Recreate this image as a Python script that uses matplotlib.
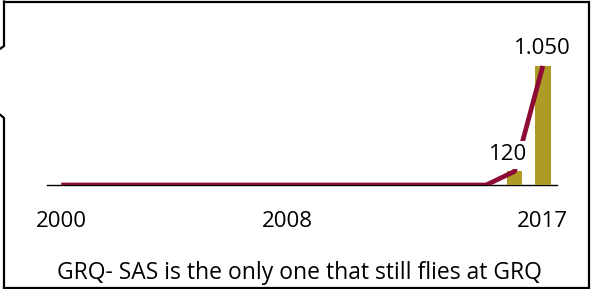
import numpy as np
import matplotlib
matplotlib.use("Agg")
from matplotlib import pyplot as plt
from matplotlib.lines import Line2D

plt.rcParams['font.family'] = ['Open Sans', 'DejaVu Sans']

years = list(range(2000, 2018))
line_values = [0] * 16 + [120, 1050]
bar_values = [0] * 16 + [120, 1050]
bar_labels = {2016: "120", 2017: "1.050"}
tick_years = [2000, 2008, 2017]
caption = "GRQ- SAS is the only one that still flies at GRQ"

bar_color = "#AE9A24"
line_color = "#8C0A33"

W, H = 591, 289
fig = plt.figure(figsize=(W / 100, H / 100), dpi=100)

# axes placed in pixel terms: x 47..557, baseline at y=185
ax = fig.add_axes([47 / W, (H - 185) / H, 510 / W, 124.7 / H])
x = np.arange(len(years))
nz = [i for i, v in enumerate(bar_values) if v > 0]
ax.bar(x[nz], [bar_values[i] for i in nz], width=0.55, color=bar_color, zorder=2)
ax.plot(x, line_values, color=line_color, linewidth=3.4, solid_capstyle="butt", zorder=3)

offsets = {2016: (-6, 6), 2017: (-1, 7)}
for yr, lab in bar_labels.items():
    i = years.index(yr)
    ax.annotate(lab, (x[i], bar_values[i]), xytext=offsets[yr], textcoords="offset pixels",
                ha="center", va="bottom", fontsize=16, color="black", zorder=4,
                bbox=dict(boxstyle="square,pad=0.15", fc="white", ec="none"))

ax.set_xlim(-0.5, len(years) - 0.5)
ax.set_ylim(0, 1100)
ax.set_xticks([years.index(t) for t in tick_years])
ax.set_xticklabels([str(t) for t in tick_years], fontsize=16)
ax.tick_params(axis="x", length=0, pad=18.5)
ax.set_yticks([])
for s in ["top", "right", "left"]:
    ax.spines[s].set_visible(False)
ax.spines["bottom"].set_linewidth(1.0)
ax.spines["bottom"].set_color("black")
ax.spines["bottom"].set_zorder(1)

fig.text(299 / W, (H - 279) / H, caption, ha="center", va="baseline", fontsize=16.5)

# frame around the chart (left edge is broken)
def px_line(xs, ys):
    fig.add_artist(Line2D([v / W for v in xs], [(H - v) / H for v in ys],
                          transform=fig.transFigure, color="black", linewidth=1.6,
                          solid_joinstyle="miter"))

px_line([4, 589, 589, 4], [1.5, 1.5, 287.5, 287.5])
px_line([4, 4, 0.5], [1.5, 46, 48.5])
px_line([0.5, 4, 4], [115, 118, 287.5])

fig.savefig("out.png", dpi=100)
